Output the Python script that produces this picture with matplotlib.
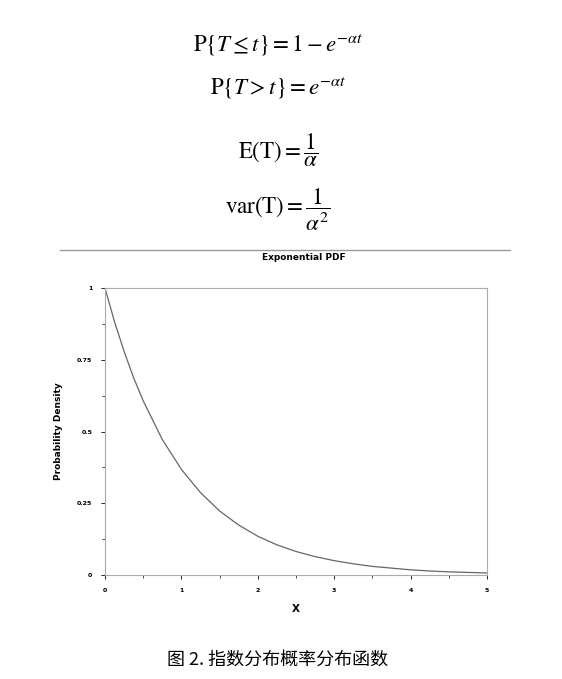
import matplotlib.pyplot as plt
from matplotlib.lines import Line2D

plt.rcParams['mathtext.fontset'] = 'stix'

# values
x_vals = [0, 0.125, 0.25, 0.375, 0.5, 0.75, 1, 1.25, 1.5, 1.75, 2, 2.25, 2.5,
          2.75, 3, 3.25, 3.5, 3.75, 4, 4.25, 4.5, 4.75, 5]
y_vals = [1, 0.882, 0.779, 0.687, 0.607, 0.472, 0.368, 0.287, 0.223, 0.174,
          0.135, 0.105, 0.082, 0.064, 0.050, 0.039, 0.030, 0.024, 0.018,
          0.014, 0.011, 0.009, 0.007]
x_ticks = [0, 1, 2, 3, 4, 5]
y_ticks = [0, 0.25, 0.5, 0.75, 1]
y_labels = ["0", "0.25", "0.5", "0.75", "1"]

formulas = [r"$\mathrm{P}\{T \leq t\} = 1 - e^{-\alpha t}$",
            r"$\mathrm{P}\{T > t\} = e^{-\alpha t}$",
            r"$\mathrm{E(T)} = \dfrac{1}{\alpha}$",
            r"$\mathrm{var(T)} = \dfrac{1}{\alpha^2}$"]
formula_y = [679 - 45, 679 - 88, 679 - 150, 679 - 210]

fig = plt.figure(figsize=(5.62, 6.79), dpi=100)
for f, yy in zip(formulas, formula_y):
    fig.text(278 / 562, yy / 679, f, ha="center", va="center", fontsize=16.5)

fig.add_artist(Line2D([60 / 562, 510 / 562], [1 - 250 / 679] * 2,
                      color="#999999", lw=1))
fig.text(304 / 562, 1 - 258 / 679, "Exponential PDF", ha="center",
         va="center", fontsize=6.5, fontweight="bold")

ax = fig.add_axes([105 / 562, 104 / 679, 382 / 562, 287 / 679])
ax.plot(x_vals, y_vals, color="#666666", lw=0.9)
ax.set_xlim(0, 5)
ax.set_ylim(0, 1)
ax.set_xticks(x_ticks)
ax.set_xticks([0.5, 1.5, 2.5, 3.5, 4.5], minor=True)
ax.set_yticks(y_ticks)
ax.set_yticklabels(y_labels)
ax.set_yticks([0.125, 0.375, 0.625, 0.875], minor=True)
ax.tick_params(labelsize=4.5, length=3, width=0.6, pad=6)
ax.tick_params(which="minor", length=2, width=0.5)
for lab in ax.get_xticklabels() + ax.get_yticklabels():
    lab.set_fontweight("bold")
for s in ax.spines.values():
    s.set_color("#aaaaaa")
    s.set_linewidth(0.8)
ax.set_xlabel("X", fontsize=7.5, labelpad=8, fontweight="bold")
ax.set_ylabel("Probability Density", fontsize=6.5, labelpad=10,
              fontweight="bold")

fig.text(278 / 562, 1 - 660 / 679, "图 2. 指数分布概率分布函数", ha="center",
         va="center", fontsize=13, family=["Noto Sans CJK SC", "DejaVu Sans"])

plt.savefig("out.png", dpi=100)
